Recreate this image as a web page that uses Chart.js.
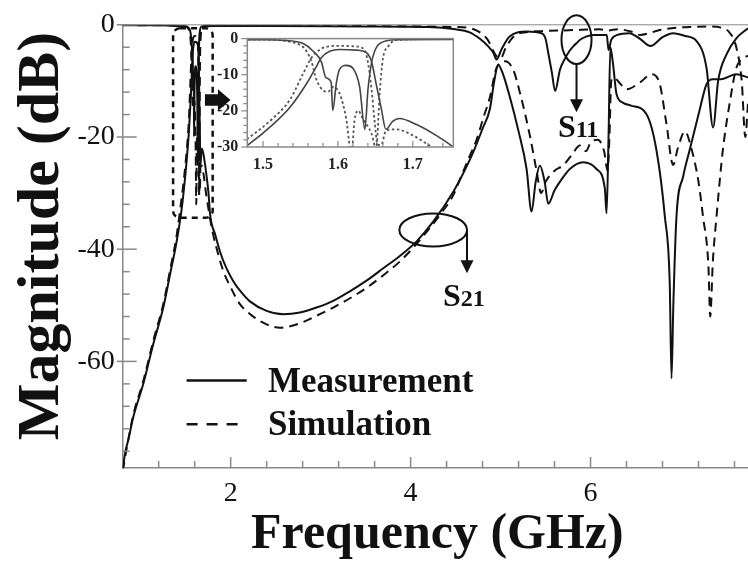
<!DOCTYPE html>
<html><head><meta charset="utf-8">
<script src="https://cdn.jsdelivr.net/npm/chart.js@4.4.1/dist/chart.umd.min.js"></script>
<style>
html,body{margin:0;padding:0;background:#fff;overflow:hidden}
#wrap{position:relative;width:748px;height:570px}
#main{position:absolute;left:0;top:0}
#inset{position:absolute;left:200px;top:20px}
</style></head><body>
<div id="wrap"><canvas id="main" width="748" height="570"></canvas><canvas id="inset" width="270" height="160"></canvas></div>
<script>
// ---------------- data (GHz, dB) ----------------
const s21MeasFreq = [0.80,0.826,0.862,0.918,1.029,1.14,1.251,1.326,1.40,1.45,1.48,1.513,1.536,1.558,1.571,1.578,1.589,1.602,1.625,1.638,1.645,1.651,1.658,1.664,1.673,1.682,1.705,1.731,1.753,1.772,1.83,1.881,1.95,2.029,2.12,2.214,2.4,2.584,2.77,2.955,3.14,3.325,3.51,3.696,3.88,4.067,4.251,4.473,4.6,4.696,4.8,4.881,4.93,4.973,5.02,5.10,5.2,5.289,5.344,5.39,5.437,5.49,5.53,5.6,5.659,5.77,5.918,6.066,6.159,6.178,6.2,6.22,6.25,6.289,6.362,6.45,6.62,6.733,6.826,6.88,6.9,6.92,6.955,7.03,7.10,7.2,7.289,7.36,7.45,7.62,7.75];
const s21MeasDb   = [-79.5,-76.4,-74.0,-69.9,-64.0,-56.9,-50.4,-44.5,-38.6,-33.5,-29.4,-23.8,-19.0,-12.5,-7.8,-5.2,-3.5,-3.0,-3.2,-3.9,-6.5,-12.5,-19.5,-25.1,-22.9,-22.1,-23.8,-26.8,-29.9,-33.9,-37.5,-40.4,-43.3,-45.7,-47.7,-49.3,-51.0,-51.6,-51.3,-50.4,-49.2,-47.5,-45.6,-43.4,-41.2,-38.6,-35.1,-29.8,-26.0,-22.7,-18.5,-15.0,-10.0,-7.1,-8.5,-12.7,-19.0,-25.7,-33.3,-28.0,-25.1,-28.0,-31.9,-29.5,-28.0,-25.7,-24.5,-25.7,-29.2,-33.6,-20.0,-4.0,-7.0,-12.4,-13.9,-14.4,-15.9,-22.4,-34.2,-46.0,-63.0,-50.0,-34.2,-27.0,-22.4,-16.0,-10.6,-9.7,-9.7,-8.8,-9.4];

const s21SimFreq = [0.80,0.85,0.918,1.029,1.14,1.251,1.326,1.40,1.45,1.479,1.513,1.536,1.553,1.565,1.576,1.584,1.602,1.625,1.635,1.64,1.645,1.649,1.653,1.658,1.664,1.678,1.70,1.725,1.75,1.80,1.86,1.918,2.0,2.103,2.25,2.4,2.548,2.77,2.95,3.14,3.33,3.51,3.70,3.88,4.03,4.178,4.33,4.473,4.55,4.64,4.733,4.81,4.88,4.955,5.05,5.14,5.215,5.326,5.40,5.45,5.50,5.60,5.70,5.80,5.88,5.95,6.00,6.08,6.15,6.19,6.21,6.23,6.257,6.33,6.40,6.548,6.677,6.77,6.844,6.918,6.97,7.05,7.12,7.20,7.25,7.31,7.33,7.36,7.40,7.47,7.55,7.62,7.70,7.75];
const s21SimDb   = [-79.5,-75.0,-69.5,-63.5,-56.3,-49.8,-43.8,-37.5,-31.5,-27.7,-22.1,-16.9,-9.9,-5.2,-3.0,-2.3,-2.0,-2.2,-3.0,-6.5,-14.3,-22.9,-29.4,-29.4,-25.5,-25.1,-26.8,-29.9,-32.5,-37.0,-40.8,-43.9,-46.8,-49.8,-52.0,-53.4,-54.0,-53.2,-51.9,-50.4,-48.7,-46.9,-44.6,-42.2,-39.7,-36.9,-33.8,-30.4,-27.5,-24.0,-20.5,-16.5,-13.0,-7.7,-6.5,-8.0,-12.1,-19.8,-26.0,-30.0,-28.0,-26.0,-25.0,-23.0,-21.5,-22.5,-21.0,-20.5,-22.5,-26.0,-20.0,-10.0,-9.4,-10.5,-11.5,-10.3,-8.8,-10.6,-17.7,-25.0,-22.0,-19.0,-22.0,-28.0,-34.2,-43.0,-52.0,-42.0,-34.2,-22.4,-13.6,-7.7,-6.0,-5.5];

const s11MeasFreq = [0.80,1.20,1.40,1.50,1.53,1.553,1.567,1.578,1.584,1.591,1.593,1.598,1.602,1.611,1.62,1.629,1.636,1.64,1.645,1.649,1.656,1.678,1.80,2.50,3.50,4.20,4.50,4.65,4.77,4.86,4.92,4.955,5.01,5.10,5.29,5.455,5.50,5.53,5.57,5.606,5.66,5.71,5.76,5.81,5.85,5.88,5.95,6.03,6.18,6.20,6.23,6.30,6.43,6.55,6.666,6.80,6.918,7.05,7.178,7.289,7.362,7.418,7.51,7.62,7.75];
const s11MeasDb   = [-0.1,-0.1,-0.2,-0.3,-0.5,-1.3,-3.5,-6.5,-10.8,-12.1,-19.9,-12.1,-8.6,-7.4,-8.2,-13.4,-25.1,-14.3,-6.5,-3.5,-1.3,-0.3,-0.2,-0.2,-0.3,-0.4,-0.8,-1.3,-2.5,-3.8,-5.0,-6.2,-4.4,-2.1,-1.2,-1.5,-2.5,-5.0,-8.5,-11.8,-8.0,-6.2,-4.8,-3.8,-3.2,-2.7,-2.1,-1.8,-1.8,-4.5,-2.7,-1.8,-1.5,-2.5,-3.8,-2.2,-1.5,-2.0,-2.9,-7.7,-18.3,-10.0,-5.3,-2.4,-0.6];

const s11SimFreq = [0.80,1.30,1.50,1.549,1.558,1.565,1.571,1.58,1.587,1.593,1.602,1.611,1.618,1.622,1.627,1.633,1.645,1.651,1.656,1.66,1.667,1.678,1.75,3.00,4.50,4.70,4.85,4.95,5.00,5.06,5.15,5.30,5.50,5.70,5.90,6.10,6.20,6.30,6.45,6.55,6.65,6.75,6.90,7.10,7.30,7.45,7.55,7.62,7.68,7.72,7.75];
const s11SimDb   = [-0.05,-0.1,-0.3,-1.7,-3.5,-6.5,-11.2,-14.3,-14.7,-13.4,-15.1,-22.1,-32.0,-22.9,-19.9,-22.1,-26.4,-30.5,-14.3,-5.6,-2.2,-0.4,-0.1,-0.2,-0.4,-0.8,-2.5,-5.5,-6.0,-4.0,-2.0,-1.3,-1.1,-1.0,-0.9,-0.8,-1.0,-0.8,-1.2,-1.8,-1.5,-1.0,-0.6,-0.4,-0.3,-0.5,-1.5,-4.0,-10.0,-20.0,-14.0];

// tick values / labels
const xLabelTicks = [2,4,6];
const xMinorTicks = [1.2,1.6,2.0,2.4,2.8,3.2,3.6,4.0,4.4,4.8,5.2,5.6,6.0,6.4,6.8,7.2,7.6];
const yLabelTicks = [0,-20,-40,-60];
const yMinorTicks = [0,-4,-8,-12,-16,-20,-24,-28,-32,-36,-40,-44,-48,-52,-56,-60,-64,-68,-72,-76];
const insetXLabelTicks = [1.5,1.6,1.7];
const insetXMinorTicks = [1.50,1.52,1.54,1.56,1.58,1.60,1.62,1.64,1.66,1.68,1.70,1.72,1.74];
const insetYLabelTicks = [0,-10,-20,-30];
const insetYMinorTicks = [0,-2,-4,-6,-8,-10,-12,-14,-16,-18,-20,-22,-24,-26,-28,-30];
const legendLabels = ['Measurement','Simulation'];
const xTitle = 'Frequency (GHz)';
const yTitle = 'Magnitude (dB)';

// ---------------- rendering ----------------
const SERIF = '"Liberation Serif", "Times New Roman", serif';
Chart.defaults.font.family = SERIF;
Chart.defaults.color = '#111';

function series(fs, ds){ return fs.map((f,i)=>({x:f, y:ds[i]})); }
const isIn = (v, arr) => arr.some(m => Math.abs(m - v) < 1e-6);

function tickPlugin(o){
  return { id:'tickMarks', afterDraw(chart){
    const {ctx, chartArea:ca, scales:{x, y}} = chart;
    ctx.save();
    ctx.strokeStyle = o.color; ctx.lineWidth = o.width; ctx.setLineDash([]);
    o.xMinor.forEach(v=>{
      const px = x.getPixelForValue(v), maj = isIn(v, o.xMajor);
      ctx.beginPath(); ctx.moveTo(px, ca.bottom + (maj?o.xMajOut:o.xMinOut)); ctx.lineTo(px, ca.bottom - (maj?o.xMajIn:o.xMinIn)); ctx.stroke();
    });
    o.yMinor.forEach(v=>{
      const py = y.getPixelForValue(v), maj = isIn(v, o.yMajor);
      ctx.beginPath(); ctx.moveTo(ca.left - (maj?o.yMajOut:o.yMinOut), py); ctx.lineTo(ca.left + (maj?o.yMajIn:o.yMinIn), py); ctx.stroke();
    });
    ctx.lineWidth = o.frameWidth;
    if (o.frame === 'box') { ctx.strokeRect(ca.left, ca.top, ca.right-ca.left, ca.bottom-ca.top); }
    else { ctx.beginPath(); ctx.moveTo(ca.left, ca.top); ctx.lineTo(ca.right, ca.top); ctx.stroke(); }
    ctx.restore();
  }};
}

// annotation positions (data units)
const passBox = {f0:1.36, f1:1.80, db0:-0.6, db1:-34.4};
const bigArrow = {f0:1.714, f1:1.859, f2:1.998, db:-13.42, body:1.03, head:1.92};
const s21Mark = {f:4.251, db:-36.57, rf:0.376, rdb:2.95, arrowEnd:-44.3, textF:4.359, textDb:-50.15};
const s11Mark = {f:5.844, db:-2.65, rf:0.167, rdb:4.34, arrowEnd:-15.6, textF:5.637, textDb:-20.05};
const legendPos = {f0:1.51, f1:2.178, f1b:2.14, db1:-63.4, db2:-71.2, textF:2.414};

function arrowDown(ctx, x, y0, y1){
  ctx.beginPath(); ctx.moveTo(x, y0); ctx.lineTo(x, y1-10); ctx.stroke();
  ctx.beginPath(); ctx.moveTo(x-6.5, y1-13); ctx.lineTo(x+6.5, y1-13); ctx.lineTo(x, y1); ctx.closePath(); ctx.fill();
}

const annotPlugin = { id:'annot', afterDraw(chart){
  const {ctx, chartArea:ca, scales:{x, y}} = chart;
  const X = v => x.getPixelForValue(v), Y = v => y.getPixelForValue(v);
  ctx.save();
  ctx.strokeStyle = '#111'; ctx.fillStyle = '#111';
  // dashed rounded box around passband
  ctx.lineWidth = 2.5; ctx.setLineDash([6,5]);
  ctx.beginPath(); ctx.roundRect(X(passBox.f0), Y(passBox.db0), X(passBox.f1)-X(passBox.f0), Y(passBox.db1)-Y(passBox.db0), 7); ctx.stroke();
  ctx.setLineDash([]);
  // big arrow to inset
  ctx.beginPath();
  ctx.moveTo(X(bigArrow.f0), Y(bigArrow.db+bigArrow.body));
  ctx.lineTo(X(bigArrow.f1), Y(bigArrow.db+bigArrow.body));
  ctx.lineTo(X(bigArrow.f1), Y(bigArrow.db+bigArrow.head));
  ctx.lineTo(X(bigArrow.f2), Y(bigArrow.db));
  ctx.lineTo(X(bigArrow.f1), Y(bigArrow.db-bigArrow.head));
  ctx.lineTo(X(bigArrow.f1), Y(bigArrow.db-bigArrow.body));
  ctx.lineTo(X(bigArrow.f0), Y(bigArrow.db-bigArrow.body));
  ctx.closePath(); ctx.fill();
  // ellipses + arrows
  ctx.lineWidth = 2;
  [s21Mark, s11Mark].forEach(m=>{
    const cx = X(m.f), cy = Y(m.db), rx = X(m.f+m.rf)-cx, ry = Y(m.db-m.rdb)-cy;
    ctx.beginPath(); ctx.ellipse(cx, cy, rx, ry, 0, 0, Math.PI*2); ctx.stroke();
  });
  arrowDown(ctx, X(s21Mark.f+s21Mark.rf), Y(s21Mark.db), Y(s21Mark.arrowEnd));
  arrowDown(ctx, X(s11Mark.f), Y(s11Mark.db-s11Mark.rdb), Y(s11Mark.arrowEnd));
  // S labels
  ctx.textBaseline = 'alphabetic'; ctx.textAlign = 'left';
  [[s21Mark,'21'],[s11Mark,'11']].forEach(([m,sub])=>{
    const tx = X(m.textF), ty = Y(m.textDb);
    ctx.font = 'bold 32px ' + SERIF; ctx.fillText('S', tx, ty);
    const w = ctx.measureText('S').width;
    ctx.font = 'bold 24px ' + SERIF; ctx.fillText(sub, tx + w, ty);
  });
  // legend
  ctx.lineWidth = 2.5;
  ctx.beginPath(); ctx.moveTo(X(legendPos.f0), Y(legendPos.db1)); ctx.lineTo(X(legendPos.f1), Y(legendPos.db1)); ctx.stroke();
  ctx.setLineDash([11,9]);
  ctx.beginPath(); ctx.moveTo(X(legendPos.f0), Y(legendPos.db2)); ctx.lineTo(X(legendPos.f1b), Y(legendPos.db2)); ctx.stroke();
  ctx.setLineDash([]);
  ctx.font = 'bold 35px ' + SERIF; ctx.textBaseline = 'middle';
  ctx.fillText(legendLabels[0], X(legendPos.textF), Y(legendPos.db1) + 2);
  ctx.fillText(legendLabels[1], X(legendPos.textF), Y(legendPos.db2) + 2);
  // axis titles
  ctx.textBaseline = 'alphabetic'; ctx.textAlign = 'center';
  ctx.font = 'bold 50px ' + SERIF;
  ctx.fillText(xTitle, (ca.left + ca.right)/2 + 2, 548);
  ctx.save(); ctx.translate(58, 236); ctx.rotate(-Math.PI/2);
  ctx.font = 'bold 60px ' + SERIF; ctx.fillText(yTitle, 0, 0); ctx.restore();
  ctx.restore();
}};

const solid = {borderColor:'#111', borderWidth:2, pointRadius:0, fill:false, cubicInterpolationMode:'monotone'};
const dashed = Object.assign({}, solid, {borderDash:[9,6]});
const tickFont = {family:SERIF, size:28};

new Chart(document.getElementById('main'), {
  type:'line',
  data:{ datasets:[
    Object.assign({label:'S21 Measurement', data:series(s21MeasFreq, s21MeasDb)}, solid),
    Object.assign({label:'S21 Simulation', data:series(s21SimFreq, s21SimDb)}, dashed),
    Object.assign({label:'S11 Measurement', data:series(s11MeasFreq, s11MeasDb)}, solid),
    Object.assign({label:'S11 Simulation', data:series(s11SimFreq, s11SimDb)}, dashed)
  ]},
  options:{
    responsive:false, animation:false, devicePixelRatio:1,
    layout:{padding:{left:0, top:21.7, right:0, bottom:0}},
    plugins:{legend:{display:false}, tooltip:{enabled:false}},
    scales:{
      x:{type:'linear', min:0.8, max:7.75,
        afterBuildTicks:s=>{ s.ticks = xLabelTicks.map(v=>({value:v})); },
        afterFit:s=>{ s.height = 102; },
        grid:{drawOnChartArea:false, drawTicks:false}, border:{color:'#888', width:1.5},
        ticks:{autoSkip:false, maxRotation:0, padding:9, color:'#111', font:tickFont, callback:v=>String(v)}},
      y:{type:'linear', min:-79, max:0,
        afterBuildTicks:s=>{ s.ticks = yLabelTicks.map(v=>({value:v})); },
        afterFit:s=>{ s.width = 122.7; },
        grid:{drawOnChartArea:false, drawTicks:false}, border:{color:'#888', width:1.5},
        ticks:{autoSkip:false, padding:8, color:'#111', font:tickFont, callback:v=>String(v)}}
    }
  },
  plugins:[tickPlugin({color:'#888', width:1.5, frameWidth:1, frame:'top',
    xMinor:xMinorTicks, xMajor:xLabelTicks, xMinIn:7, xMajIn:11, xMinOut:0, xMajOut:0,
    yMinor:yMinorTicks, yMajor:yLabelTicks, yMinIn:7, yMajIn:14, yMinOut:0, yMajOut:6}), annotPlugin]
});

// ---------------- inset ----------------
const insetBg = { id:'insetBg', beforeDraw(chart){
  const {ctx, chartArea:ca} = chart; ctx.save(); ctx.fillStyle = '#fff';
  ctx.fillRect(ca.left, ca.top, ca.right-ca.left, ca.bottom-ca.top); ctx.restore(); } };
const iSolid = {borderColor:'#444', borderWidth:1.6, pointRadius:0, fill:false, cubicInterpolationMode:'monotone'};
const iDot = Object.assign({}, iSolid, {borderColor:'#555', borderWidth:1.8, borderDash:[2.5,2.5]});
const insetFont = {family:SERIF, size:16, weight:'bold'};

new Chart(document.getElementById('inset'), {
  type:'line',
  data:{ datasets:[
    Object.assign({label:'S21 Measurement', data:series(s21MeasFreq, s21MeasDb)}, iSolid),
    Object.assign({label:'S21 Simulation', data:series(s21SimFreq, s21SimDb)}, iDot),
    Object.assign({label:'S11 Measurement', data:series(s11MeasFreq, s11MeasDb)}, iSolid),
    Object.assign({label:'S11 Simulation', data:series(s11SimFreq, s11SimDb)}, iDot)
  ]},
  options:{
    responsive:false, animation:false, devicePixelRatio:1,
    layout:{padding:{left:0, top:11.7, right:16.7, bottom:0}},
    plugins:{legend:{display:false}, tooltip:{enabled:false}},
    scales:{
      x:{type:'linear', min:1.479, max:1.754,
        afterBuildTicks:s=>{ s.ticks = insetXLabelTicks.map(v=>({value:v})); },
        afterFit:s=>{ s.height = 33; },
        grid:{drawOnChartArea:false, drawTicks:false}, border:{display:false},
        ticks:{autoSkip:false, maxRotation:0, padding:8, color:'#222', font:insetFont, callback:v=>v.toFixed(1)}},
      y:{type:'linear', min:-30, max:0,
        afterBuildTicks:s=>{ s.ticks = insetYLabelTicks.map(v=>({value:v})); },
        afterFit:s=>{ s.width = 47.3; },
        grid:{drawOnChartArea:false, drawTicks:false}, border:{display:false},
        ticks:{autoSkip:false, padding:9, color:'#222', font:insetFont, callback:v=>String(v)}}
    }
  },
  plugins:[insetBg, tickPlugin({color:'#888', width:1.2, frameWidth:1.5, frame:'box',
    xMinor:insetXMinorTicks, xMajor:insetXLabelTicks, xMinIn:4, xMajIn:6, xMinOut:0, xMajOut:0,
    yMinor:insetYMinorTicks, yMajor:insetYLabelTicks, yMinIn:0, yMajIn:0, yMinOut:4, yMajOut:6})]
});
</script>
</body></html>
